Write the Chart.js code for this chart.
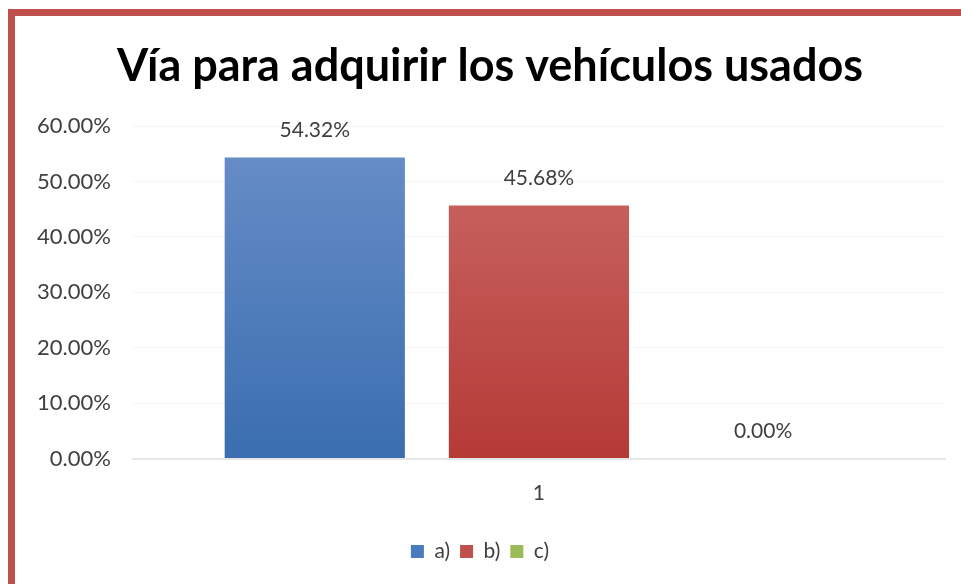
<!DOCTYPE html>
<html lang="es">
<head>
    <meta charset="UTF-8">
    <title>Vía para adquirir los vehículos usados</title>
    <script src="https://cdn.jsdelivr.net/npm/chart.js"></script>
    <style>
        html, body {
            margin: 0;
            padding: 0;
            background: #ffffff;
        }
        .frame {
            position: absolute;
            left: 8px;
            top: 9px;
            width: 953px;
            height: 575px;
            border-left: 7px solid #c0504d;
            border-top: 7px solid #c0504d;
            box-sizing: border-box;
        }
        .wrap {
            position: absolute;
            left: 0;
            top: 0;
            width: 961px;
            height: 584px;
        }
    </style>
</head>
<body>
    <div class="frame"></div>
    <div class="wrap"><canvas id="chart" width="961" height="584"></canvas></div>

    <script>
        const title = 'Vía para adquirir los vehículos usados';
        const categories = ['1'];
        const seriesNames = ['a)', 'b)', 'c)'];
        const seriesA = [0.5432];
        const seriesB = [0.4568];
        const seriesC = [0.0];
        const yTicks = [0, 0.1, 0.2, 0.3, 0.4, 0.5, 0.6];

        const FONT = 'Lato, "Open Sans", sans-serif';
        const TEXT = '#404040';

        // degradado vertical como en Excel
        function gradient(top, bottom) {
            return (ctx) => {
                const area = ctx.chart.chartArea;
                if (!area) return bottom;
                const g = ctx.chart.ctx.createLinearGradient(0, area.top, 0, area.bottom);
                g.addColorStop(0, top);
                g.addColorStop(1, bottom);
                return g;
            };
        }

        const pct = v => (v * 100).toFixed(2) + '%';

        // título centrado sobre la imagen completa
        const bigTitle = {
            id: 'bigTitle',
            afterDraw(chart) {
                const c = chart.ctx;
                c.save();
                c.font = 'bold 45px ' + FONT;
                c.fillStyle = '#000000';
                c.textAlign = 'center';
                c.textBaseline = 'middle';
                c.fillText(title, 490, 66);
                c.restore();
            }
        };

        // etiquetas de valor encima de cada barra
        const valueLabels = {
            id: 'valueLabels',
            afterDatasetsDraw(chart) {
                const c = chart.ctx;
                c.save();
                c.font = '21px ' + FONT;
                c.fillStyle = TEXT;
                c.textAlign = 'center';
                c.textBaseline = 'middle';
                chart.data.datasets.forEach((ds, i) => {
                    chart.getDatasetMeta(i).data.forEach((bar, j) => {
                        c.fillText(pct(ds.data[j]), bar.x, bar.y - 27);
                    });
                });
                c.restore();
            }
        };

        new Chart(document.getElementById('chart'), {
            type: 'bar',
            data: {
                labels: categories,
                datasets: [
                    { label: seriesNames[0], data: seriesA, backgroundColor: gradient('#6a8fc8', '#3a6eb0') },
                    { label: seriesNames[1], data: seriesB, backgroundColor: gradient('#cb6b68', '#b53a36') },
                    { label: seriesNames[2], data: seriesC, backgroundColor: gradient('#a9c96a', '#8cb04a') }
                ]
            },
            options: {
                responsive: false,
                animation: false,
                categoryPercentage: 0.828,
                barPercentage: 0.804,
                layout: { padding: { left: 15, right: 16, top: 126, bottom: 12 } },
                plugins: {
                    title: { display: false },
                    legend: {
                        position: 'bottom',
                        labels: {
                            color: TEXT,
                            font: { family: FONT, size: 21 },
                            boxWidth: 13,
                            boxHeight: 13,
                            padding: 10,
                            generateLabels(chart) {
                                const fills = ['#4a7bbd', '#c0504d', '#9bbb59'];
                                return chart.data.datasets.map((ds, i) => ({
                                    text: ds.label,
                                    fillStyle: fills[i],
                                    strokeStyle: fills[i],
                                    lineWidth: 0,
                                    fontColor: TEXT,
                                    datasetIndex: i
                                }));
                            }
                        }
                    },
                    tooltip: { enabled: false }
                },
                scales: {
                    x: {
                        grid: { display: false, drawTicks: false },
                        border: { color: '#e6e6e6', width: 2 },
                        ticks: { color: TEXT, font: { family: FONT, size: 21 }, padding: 22 },
                        // espacio vacío entre la etiqueta "1" y la leyenda
                        title: { display: true, text: ' ', font: { size: 1 }, padding: { top: 0, bottom: 2 } }
                    },
                    y: {
                        min: yTicks[0],
                        max: yTicks[yTicks.length - 1],
                        afterBuildTicks(scale) {
                            scale.ticks = yTicks.map(v => ({ value: v }));
                        },
                        grid: { color: '#f5f5f5', drawTicks: false },
                        border: { display: false },
                        ticks: {
                            color: TEXT,
                            font: { family: FONT, size: 22 },
                            padding: 22,
                            callback: v => pct(v)
                        }
                    }
                }
            },
            plugins: [valueLabels, bigTitle]
        });
    </script>
</body>
</html>
